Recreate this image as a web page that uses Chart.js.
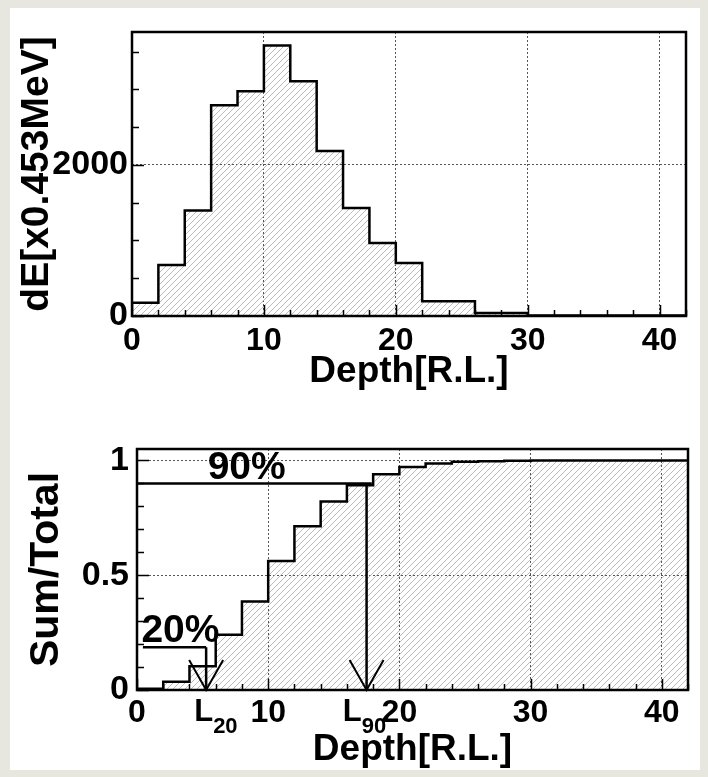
<!DOCTYPE html>
<html>
<head>
<meta charset="utf-8">
<script src="https://cdn.jsdelivr.net/npm/chart.js@4.4.0/dist/chart.umd.min.js"></script>
<style>
    html, body { margin: 0; padding: 0; background: #e7e7e0; }
    #page { position: relative; width: 708px; height: 777px; overflow: hidden; }
    #panel { position: absolute; left: 10px; top: 8px; width: 690px; height: 762px; background: #fff; }
    #c1 { position: absolute; left: 0; top: 0; }
    #c2 { position: absolute; left: 0; top: 400px; }
</style>
</head>
<body>
<div id="page">
    <div id="panel"></div>
    <canvas id="c1" width="708" height="400"></canvas>
    <canvas id="c2" width="708" height="377"></canvas>
</div>
<script>
// bin edges in radiation lengths (2 R.L. per bin)
const binEdges = [0, 2, 4, 6, 8, 10, 12, 14, 16, 18, 20, 22, 24, 26, 28, 30, 32, 34, 36, 38, 40, 42];
// energy deposit per bin [x0.453 MeV]
const dE = [177, 676, 1396, 2791, 2977, 3581, 3109, 2186, 1431, 967, 702, 195, 195, 40, 40, 5, 5, 5, 5, 5, 5];
// cumulative fraction Sum/Total per bin
const sumTotal = [0.005, 0.036, 0.103, 0.241, 0.386, 0.562, 0.713, 0.821, 0.892, 0.940, 0.972, 0.987, 0.994, 0.997, 0.999, 1, 1, 1, 1, 1, 1];
const xTickLabels = [0, 10, 20, 30, 40];
const dETicks = [0, 500, 1000, 1500, 2000, 2500, 3000, 3500];
const dETickLabels = [0, 2000];
const sumTicks = [0, 0.1, 0.2, 0.3, 0.4, 0.5, 0.6, 0.7, 0.8, 0.9, 1];
const sumTickLabels = [0, 0.5, 1];

// shower depth markers
const L20 = 5.27;
const L90 = 17.5;
const level20 = 0.186;
const level90 = 0.9;

const FONT = "'Liberation Sans', Arial, Helvetica, sans-serif";

function histPoints(vals) {
    const pts = [];
    for (let i = 0; i < vals.length; i++) {
        pts.push({ x: binEdges[i], y: vals[i] });
        pts.push({ x: binEdges[i + 1], y: vals[i] });
    }
    return pts;
}

function hatchPattern() {
    const c = document.createElement('canvas');
    c.width = 6; c.height = 6;
    const g = c.getContext('2d');
    g.strokeStyle = '#b4b4b4';
    g.lineWidth = 0.9;
    g.beginPath();
    g.moveTo(0, 6); g.lineTo(6, 0);
    g.moveTo(-3, 3); g.lineTo(3, -3);
    g.moveTo(3, 9); g.lineTo(9, 3);
    g.stroke();
    return g.createPattern(c, 'repeat');
}

function isIn(v, list) {
    return list.some(t => Math.abs(t - v) < 1e-6);
}

// frame + ROOT-like inner tick marks
function frameTicks(yTicks, yMajor) {
    return {
        id: 'frameTicks',
        afterDatasetsDraw(chart) {
            const ctx = chart.ctx;
            const a = chart.chartArea;
            const xs = chart.scales.x, ys = chart.scales.y;
            ctx.save();
            ctx.strokeStyle = '#000';
            ctx.lineWidth = 1.5;
            ctx.beginPath();
            binEdges.forEach(v => {
                const px = Math.round(xs.getPixelForValue(v)) + 0.5;
                const len = (v % 10 === 0) ? 11 : 6;
                ctx.moveTo(px, a.bottom);
                ctx.lineTo(px, a.bottom - len);
            });
            yTicks.forEach(v => {
                const py = Math.round(ys.getPixelForValue(v)) + 0.5;
                const len = (Math.abs(v / yMajor - Math.round(v / yMajor)) < 1e-6) ? 12 : 7;
                ctx.moveTo(a.left, py);
                ctx.lineTo(a.left + len, py);
            });
            ctx.stroke();
            ctx.lineWidth = 2.5;
            ctx.strokeRect(a.left, a.top, a.right - a.left, a.bottom - a.top);
            ctx.restore();
        }
    };
}

const markers = {
    id: 'markers',
    afterDatasetsDraw(chart) {
        const ctx = chart.ctx;
        const xs = chart.scales.x, ys = chart.scales.y;
        const a = chart.chartArea;
        const X = v => xs.getPixelForValue(v);
        const Y = v => ys.getPixelForValue(v);
        ctx.save();
        ctx.strokeStyle = '#000';
        ctx.lineWidth = 2.5;
        ctx.beginPath();
        // 20% level and arrow
        ctx.moveTo(X(0.45), Y(level20)); ctx.lineTo(X(L20), Y(level20));
        ctx.moveTo(X(L20), Y(level20)); ctx.lineTo(X(L20), Y(0));
        // 90% level and arrow
        ctx.moveTo(X(0), Y(level90)); ctx.lineTo(X(17.9), Y(level90));
        ctx.moveTo(X(L90), Y(level90)); ctx.lineTo(X(L90), Y(0));
        ctx.stroke();
        ctx.lineWidth = 2;
        ctx.beginPath();
        ctx.moveTo(X(L20) - 17, Y(0) - 30); ctx.lineTo(X(L20), Y(0)); ctx.lineTo(X(L20) + 17, Y(0) - 30);
        ctx.moveTo(X(L90) - 17, Y(0) - 30); ctx.lineTo(X(L90), Y(0)); ctx.lineTo(X(L90) + 17, Y(0) - 30);
        ctx.stroke();

        ctx.fillStyle = '#000';
        ctx.textAlign = 'center';
        ctx.textBaseline = 'alphabetic';
        ctx.font = 'bold 39px ' + FONT;
        ctx.fillText('90%', X(8.36), Y(0.921));
        ctx.fillText('20%', X(3.31), Y(0.208));

        ctx.textAlign = 'left';
        [[L20, 4.36, '20'], [L90, 15.69, '90']].forEach(m => {
            const lx = X(m[1]);
            ctx.font = 'bold 31px ' + FONT;
            ctx.fillText('L', lx, a.bottom + 31);
            const w = ctx.measureText('L').width;
            ctx.font = 'bold 22px ' + FONT;
            ctx.fillText(m[2], lx + w, a.bottom + 43);
        });
        ctx.restore();
    }
};

function gridColor(labels) {
    return c => (c.tick && c.tick.value > 0 && isIn(c.tick.value, labels)) ? '#555' : 'rgba(0,0,0,0)';
}

function xScale(titlePadBottom, labelPad, height) {
    return {
        type: 'linear', min: 0, max: 42,
        afterFit: s => { s.height = height; },
        afterBuildTicks: s => { s.ticks = binEdges.map(v => ({ value: v })); },
        ticks: {
            autoSkip: false, maxRotation: 0, padding: labelPad,
            color: '#000', font: { family: FONT, size: 32, weight: 'bold' },
            callback: v => isIn(v, xTickLabels) ? String(v) : ''
        },
        grid: { drawTicks: false, lineWidth: 1, color: gridColor(xTickLabels) },
        border: { display: false, dash: [2, 2] },
        title: {
            display: true, text: 'Depth[R.L.]', color: '#000',
            font: { family: FONT, size: 37, weight: 'bold' },
            padding: { top: 0, bottom: titlePadBottom }
        }
    };
}

function yScale(max, width, ticks, labels, title, titleSize, titlePad, labelPad) {
    return {
        type: 'linear', min: 0, max: max,
        afterFit: s => { s.width = width; },
        afterBuildTicks: s => { s.ticks = ticks.map(v => ({ value: v })); },
        ticks: {
            autoSkip: false, padding: labelPad, color: '#000',
            font: { family: FONT, size: 34, weight: 'bold' },
            callback: v => isIn(v, labels) ? String(Math.round(v * 10) / 10) : ''
        },
        grid: { drawTicks: false, lineWidth: 1, color: gridColor(labels) },
        border: { display: false, dash: [2, 2] },
        title: {
            display: true, text: title, color: '#000',
            font: { family: FONT, size: titleSize, weight: 'bold' },
            padding: { top: titlePad, bottom: 0 }
        }
    };
}

const pattern = hatchPattern();

new Chart(document.getElementById('c1'), {
    type: 'line',
    data: {
        datasets: [{
            data: histPoints(dE),
            borderColor: '#000', borderWidth: 2.5,
            backgroundColor: pattern, fill: 'origin',
            pointRadius: 0, tension: 0
        }]
    },
    options: {
        responsive: false, animation: false,
        layout: { padding: { left: 0, right: 22, top: 32, bottom: 0 } },
        plugins: { legend: { display: false }, tooltip: { enabled: false } },
        scales: {
            x: xScale(6, 6, 84),
            y: yScale(3760, 132, dETicks, dETickLabels, 'dE[x0.453MeV]', 39, 14, 4)
        }
    },
    plugins: [frameTicks(dETicks, 2000)]
});

new Chart(document.getElementById('c2'), {
    type: 'line',
    data: {
        datasets: [{
            data: histPoints(sumTotal),
            borderColor: '#000', borderWidth: 2.5,
            backgroundColor: pattern, fill: 'origin',
            pointRadius: 0, tension: 0
        }]
    },
    options: {
        responsive: false, animation: false,
        layout: { padding: { left: 0, right: 20, top: 49, bottom: 0 } },
        plugins: { legend: { display: false }, tooltip: { enabled: false } },
        scales: {
            x: xScale(5, 4, 87),
            y: yScale(1.05, 137, sumTicks, sumTickLabels, 'Sum/Total', 41, 22, 8)
        }
    },
    plugins: [frameTicks(sumTicks, 0.5), markers]
});
</script>
</body>
</html>
